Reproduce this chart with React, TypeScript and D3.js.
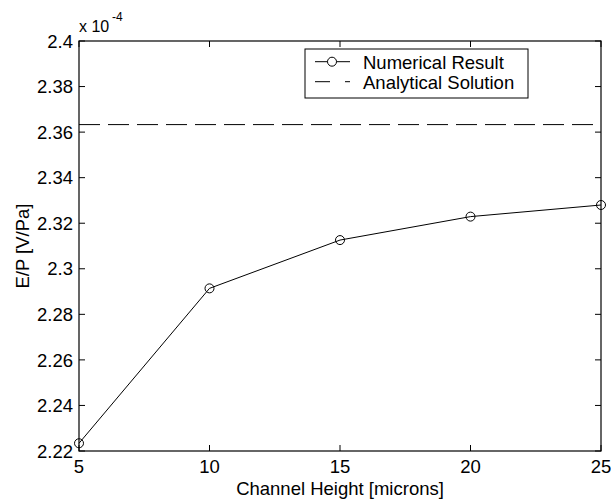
import React from "react";
import * as d3 from "d3";

const channelHeights = [5, 10, 15, 20, 25];
const numericalResult = [2.2234, 2.2914, 2.3126, 2.3229, 2.328]; // x 10^-4 V/Pa
const analyticalSolution = 2.3633; // x 10^-4 V/Pa
const xTicks = [5, 10, 15, 20, 25];
const yTicks = [2.22, 2.24, 2.26, 2.28, 2.3, 2.32, 2.34, 2.36, 2.38, 2.4];
const legendLabels = ["Numerical Result", "Analytical Solution"];

const W = 611;
const H = 500;
const M = { left: 79, right: 10, top: 41, bottom: 49 };
const FONT = "'Liberation Sans', Arial, Helvetica, sans-serif";

export default function App() {
  const x = d3.scaleLinear().domain([5, 25]).range([M.left, W - M.right]);
  const y = d3.scaleLinear().domain([2.22, 2.4]).range([H - M.bottom, M.top]);
  const x0 = x.range()[0], x1 = x.range()[1];
  const y0 = y.range()[0], y1 = y.range()[1];
  const line = d3
    .line<number>()
    .x((_, i) => x(channelHeights[i]))
    .y((d) => y(d));
  const fmt = (v: number) => String(Number(v.toFixed(2)));
  const tl = 6;
  const fs = 18.5;

  return (
    <svg
      width={W}
      height={H}
      style={{ position: "absolute", left: 0, top: 0, background: "#fff" }}
      fontFamily={FONT}
    >
      <rect x={0} y={0} width={W} height={H} fill="#fff" />
      {/* ticks */}
      {xTicks.map((t) => (
        <g key={"xt" + t}>
          <line x1={x(t)} x2={x(t)} y1={y0} y2={y0 - tl} stroke="#000" />
          <line x1={x(t)} x2={x(t)} y1={y1} y2={y1 + tl} stroke="#000" />
          <text x={x(t)} y={y0 + 22} textAnchor="middle" fontSize={fs} fill="#000">
            {t}
          </text>
        </g>
      ))}
      {yTicks.map((t) => (
        <g key={"yt" + t}>
          <line x1={x0} x2={x0 + tl} y1={y(t)} y2={y(t)} stroke="#000" />
          <line x1={x1} x2={x1 - tl} y1={y(t)} y2={y(t)} stroke="#000" />
          <text x={x0 - 6} y={y(t)} dy="0.36em" textAnchor="end" fontSize={fs} fill="#000">
            {fmt(t)}
          </text>
        </g>
      ))}
      {/* analytical */}
      <line
        x1={x0}
        x2={x1}
        y1={y(analyticalSolution)}
        y2={y(analyticalSolution)}
        stroke="#000"
        strokeDasharray="21,8"
      />
      {/* numerical */}
      <path d={line(numericalResult) || ""} fill="none" stroke="#000" strokeWidth={1} />
      {numericalResult.map((v, i) => (
        <circle key={"c" + i} cx={x(channelHeights[i])} cy={y(v)} r={4.5} fill="none" stroke="#000" />
      ))}
      {/* box */}
      <rect x={x0} y={y1} width={x1 - x0} height={y0 - y1} fill="none" stroke="#000" strokeWidth={1.2} />
      {/* exponent */}
      <text x={x0} y={32} fontSize={16} fill="#000">
        x 10
      </text>
      <text x={112} y={21} fontSize={12} fill="#000">
        -4
      </text>
      {/* legend */}
      <g>
        <rect x={305} y={49} width={223} height={49} fill="#fff" stroke="#000" />
        <line x1={315} x2={350} y1={61.7} y2={61.7} stroke="#000" />
        <circle cx={332} cy={61.7} r={4.5} fill="#fff" stroke="#000" />
        <text x={363} y={68.5} fontSize={fs} fill="#000">
          {legendLabels[0]}
        </text>
        <line x1={315} x2={350} y1={81.7} y2={81.7} stroke="#000" strokeDasharray="15,15" />
        <text x={363} y={89} fontSize={fs} fill="#000">
          {legendLabels[1]}
        </text>
      </g>
      {/* axis labels */}
      <text x={(x0 + x1) / 2} y={495} textAnchor="middle" fontSize={fs} fill="#000">
        Channel Height [microns]
      </text>
      <text
        transform={`translate(29,${(y0 + y1) / 2}) rotate(-90)`}
        textAnchor="middle"
        fontSize={fs}
        fill="#000"
      >
        E/P [V/Pa]
      </text>
    </svg>
  );
}
